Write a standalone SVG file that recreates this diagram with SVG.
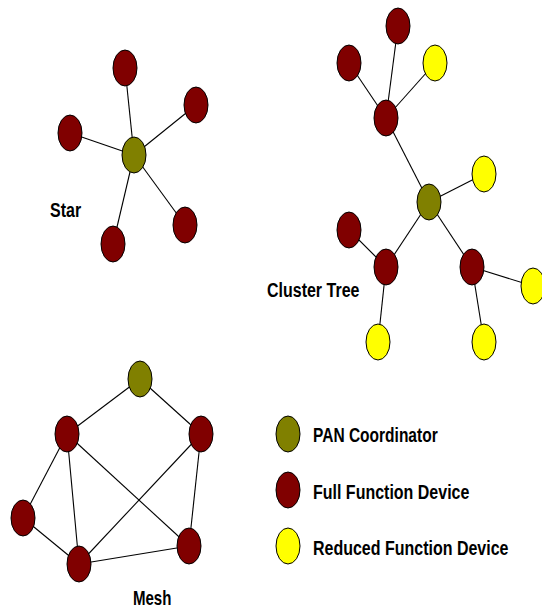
<svg xmlns="http://www.w3.org/2000/svg" width="542" height="609" viewBox="0 0 542 609">
  <style>
    .pan { fill: #808000; stroke: #000; stroke-width: 1; }
    .ffd { fill: #800000; stroke: #000; stroke-width: 1; }
    .rfd { fill: #ffff00; stroke: #000; stroke-width: 1; }
    .link { stroke: #000; stroke-width: 1.1; fill: none; }
    .label { font-family: "Liberation Sans", Arial, sans-serif; font-weight: bold; font-size: 16px; fill: #000; }
  </style>
  <rect width="542" height="609" fill="#fff"/>

  <!-- connectors -->
  <g id="connectors">
    <!-- star -->
    <line class="link" x1="134" y1="155" x2="125" y2="68"/>
    <line class="link" x1="134" y1="155" x2="196" y2="105"/>
    <line class="link" x1="134" y1="155" x2="70" y2="133"/>
    <line class="link" x1="134" y1="155" x2="185" y2="225"/>
    <line class="link" x1="134" y1="155" x2="113" y2="244"/>
    <!-- cluster tree -->
    <line class="link" x1="386" y1="118" x2="398" y2="26"/>
    <line class="link" x1="386" y1="118" x2="349" y2="63"/>
    <line class="link" x1="386" y1="118" x2="435" y2="63"/>
    <line class="link" x1="386" y1="118" x2="429" y2="202"/>
    <line class="link" x1="429" y1="202" x2="484" y2="174"/>
    <line class="link" x1="429" y1="202" x2="386" y2="267"/>
    <line class="link" x1="429" y1="202" x2="472" y2="267"/>
    <line class="link" x1="386" y1="267" x2="349" y2="230"/>
    <line class="link" x1="386" y1="267" x2="378" y2="342"/>
    <line class="link" x1="472" y1="267" x2="533" y2="286"/>
    <line class="link" x1="472" y1="267" x2="484" y2="342"/>
    <!-- mesh -->
    <line class="link" x1="140" y1="379" x2="67" y2="434"/>
    <line class="link" x1="140" y1="379" x2="201" y2="434"/>
    <line class="link" x1="67" y1="434" x2="23" y2="518"/>
    <line class="link" x1="67" y1="434" x2="79" y2="564"/>
    <line class="link" x1="67" y1="434" x2="189" y2="546"/>
    <line class="link" x1="201" y1="434" x2="79" y2="564"/>
    <line class="link" x1="201" y1="434" x2="189" y2="546"/>
    <line class="link" x1="23" y1="518" x2="79" y2="564"/>
    <line class="link" x1="79" y1="564" x2="189" y2="546"/>
  </g>

  <!-- star topology -->
  <g id="star-coordinator"><ellipse class="pan" cx="134" cy="155" rx="12" ry="18"/></g>
  <g id="star-ffd-top"><ellipse class="ffd" cx="125" cy="68" rx="12" ry="18"/></g>
  <g id="star-ffd-right"><ellipse class="ffd" cx="196" cy="105" rx="12" ry="18"/></g>
  <g id="star-ffd-left"><ellipse class="ffd" cx="70" cy="133" rx="12" ry="18"/></g>
  <g id="star-ffd-lower-right"><ellipse class="ffd" cx="185" cy="225" rx="12" ry="18"/></g>
  <g id="star-ffd-bottom"><ellipse class="ffd" cx="113" cy="244" rx="12" ry="18"/></g>
  <g id="star-label"><text class="label" transform="translate(50 217) scale(1 1.3)">Star</text></g>

  <!-- cluster tree topology -->
  <g id="tree-ffd-top"><ellipse class="ffd" cx="398" cy="26" rx="12" ry="18"/></g>
  <g id="tree-ffd-top-left"><ellipse class="ffd" cx="349" cy="63" rx="12" ry="18"/></g>
  <g id="tree-rfd-top"><ellipse class="rfd" cx="435" cy="63" rx="12" ry="18"/></g>
  <g id="tree-ffd-upper"><ellipse class="ffd" cx="386" cy="118" rx="12" ry="18"/></g>
  <g id="tree-coordinator"><ellipse class="pan" cx="429" cy="202" rx="12" ry="18"/></g>
  <g id="tree-rfd-right"><ellipse class="rfd" cx="484" cy="174" rx="12" ry="18"/></g>
  <g id="tree-ffd-lower-left-leaf"><ellipse class="ffd" cx="349" cy="230" rx="12" ry="18"/></g>
  <g id="tree-ffd-lower-left"><ellipse class="ffd" cx="386" cy="267" rx="12" ry="18"/></g>
  <g id="tree-ffd-lower-right"><ellipse class="ffd" cx="472" cy="267" rx="12" ry="18"/></g>
  <g id="tree-rfd-far-right"><ellipse class="rfd" cx="533" cy="286" rx="12" ry="18"/></g>
  <g id="tree-rfd-bottom-left"><ellipse class="rfd" cx="378" cy="342" rx="12" ry="18"/></g>
  <g id="tree-rfd-bottom-right"><ellipse class="rfd" cx="484" cy="342" rx="12" ry="18"/></g>
  <g id="tree-label"><text class="label" transform="translate(267 297) scale(1 1.3)">Cluster Tree</text></g>

  <!-- mesh topology -->
  <g id="mesh-coordinator"><ellipse class="pan" cx="140" cy="379" rx="12" ry="18"/></g>
  <g id="mesh-ffd-left"><ellipse class="ffd" cx="67" cy="434" rx="12" ry="18"/></g>
  <g id="mesh-ffd-right"><ellipse class="ffd" cx="201" cy="434" rx="12" ry="18"/></g>
  <g id="mesh-ffd-far-left"><ellipse class="ffd" cx="23" cy="518" rx="12" ry="18"/></g>
  <g id="mesh-ffd-bottom"><ellipse class="ffd" cx="79" cy="564" rx="12" ry="18"/></g>
  <g id="mesh-ffd-bottom-right"><ellipse class="ffd" cx="189" cy="546" rx="12" ry="18"/></g>
  <g id="mesh-label"><text class="label" transform="translate(133 605) scale(0.94 1.3)">Mesh</text></g>

  <!-- legend -->
  <g id="legend-pan">
    <ellipse class="pan" cx="288" cy="434" rx="12" ry="18"/>
    <text class="label" transform="translate(313 442) scale(0.97 1.3)">PAN Coordinator</text>
  </g>
  <g id="legend-ffd">
    <ellipse class="ffd" cx="288" cy="490" rx="12" ry="18"/>
    <text class="label" transform="translate(313 498.5) scale(1 1.3)">Full Function Device</text>
  </g>
  <g id="legend-rfd">
    <ellipse class="rfd" cx="288" cy="546" rx="12" ry="18"/>
    <text class="label" transform="translate(313 555) scale(1 1.3)">Reduced Function Device</text>
  </g>
</svg>
